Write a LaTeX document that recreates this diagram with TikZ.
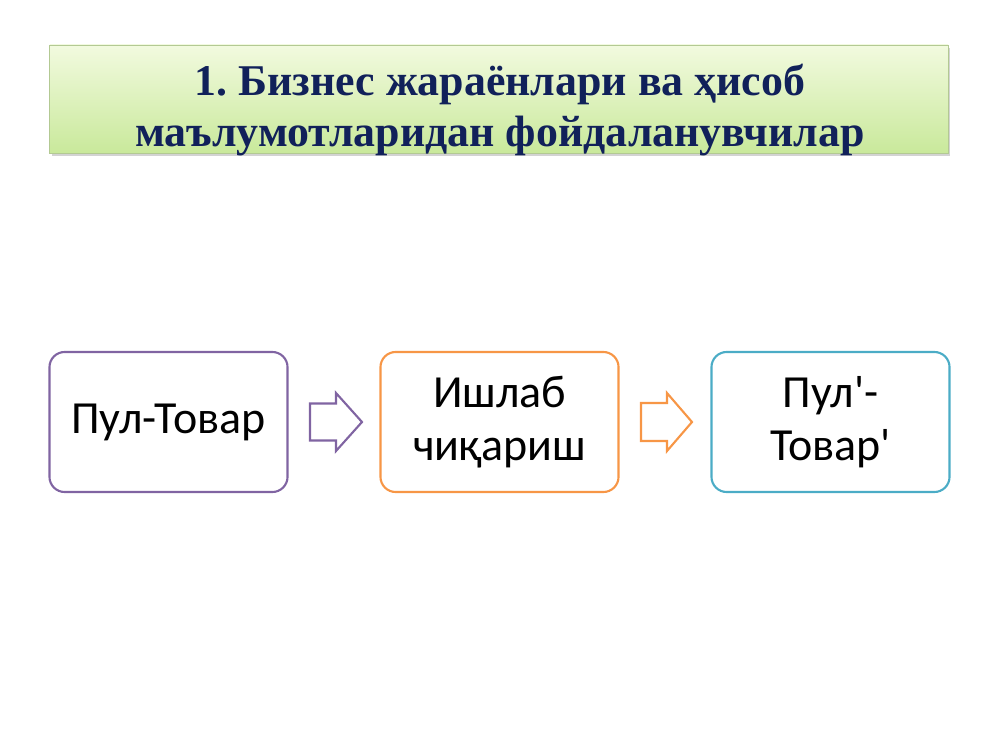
\documentclass[tikz,border=0pt]{standalone}
\usepackage{fontspec}
\setmainfont{Carlito}[Ligatures=TeXOff]
\newfontfamily\titlefont{Liberation Serif}
\usepackage{tikz}
\usetikzlibrary{calc,positioning,shadows}
\frenchspacing

\definecolor{titleblue}{HTML}{11215A}
\definecolor{stepviolet}{HTML}{8064A2}
\definecolor{steporange}{HTML}{F79646}
\definecolor{stepteal}{HTML}{4BACC6}
\definecolor{greentop}{HTML}{F2FADF}
\definecolor{greenbot}{HTML}{C9E99B}

\tikzset{
	stepbox/.style={draw, line width=1.5pt, rounded corners=0.38cm, fill=white,
		minimum width=5.95cm, minimum height=3.5cm, align=center,
		font=\fontsize{32.7}{38}\selectfont},
	blockarrow/.style={line width=1.5pt, fill=white, line join=miter}
}

\begin{document}
\begin{tikzpicture}[x=0.025cm, y=-0.025cm]
	\useasboundingbox (0,0) rectangle (1000,750);

	% Title
	\node [draw=greenbot!70!gray, line width=0.6pt, top color=greentop, bottom color=greenbot,
		drop shadow={shadow xshift=0.05cm, shadow yshift=-0.08cm, opacity=0.35},
		minimum width=22.45cm, minimum height=2.7cm, inner sep=0pt] (title) at (499,99) {};
	\node [align=center, inner sep=0pt, text=titleblue,
		font=\titlefont\bfseries\fontsize{31.2}{35.6}\selectfont]
		(titletext) at (500,110) {1. Бизнес жараёнлари ва ҳисоб\\маълумотларидан фойдаланувчилар};

	% Three stages
	\node [stepbox, draw=stepviolet] (pultovar) at (168.5,422) {Пул-Товар};
	\node [stepbox, draw=steporange] (ishlab) at (499.5,422) {Ишлаб\\чиқариш};
	\node [stepbox, draw=stepteal] (pultovar2) at (830.5,422) {Пул'-\\Товар'};

	% Arrows between stages
	\coordinate (m1) at ($(pultovar.east)!0.5!(ishlab.west)$);
	\coordinate (m2) at ($(ishlab.east)!0.5!(pultovar2.west)$);
	\draw [blockarrow, draw=stepviolet] ($(m1)+(-24,-18.5)$) -- ++(26,0) -- ++(0,-10.5)
		-- ++(26,29) -- ++(-26,29) -- ++(0,-10.5) -- ++(-26,0) -- cycle;
	\draw [blockarrow, draw=steporange] ($(m2)+(-24,-19)$) -- ++(26,0) -- ++(0,-10)
		-- ++(25,29) -- ++(-25,29) -- ++(0,-10) -- ++(-26,0) -- cycle;
\end{tikzpicture}
\end{document}
